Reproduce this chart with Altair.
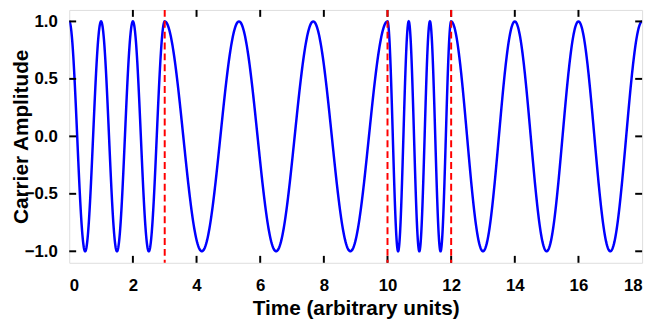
import numpy as np
import pandas as pd
import altair as alt

# Segment boundaries (time) and carrier frequency (cycles per unit) in each segment
seg_edges = [0, 3, 10, 12, 18]
seg_freqs = [1.0, 3.0 / 7.0, 1.5, 0.5]
# Dashed markers where the frequency switches
switch_times = [3, 10, 12]
x_ticks = [0, 2, 4, 6, 8, 10, 12, 14, 16, 18]
y_ticks = [-1.0, -0.5, 0.0, 0.5, 1.0]

rows = []
for (t0, t1), f in zip(zip(seg_edges[:-1], seg_edges[1:]), seg_freqs):
    ts = np.linspace(t0, t1, 400)
    for t in ts:
        rows.append({"t": float(t), "amp": float(np.cos(2 * np.pi * f * (t - t0)))})
wave = pd.DataFrame(rows)

W, H = 580, 256
FONT = "Liberation Sans"
xs = alt.Scale(domain=[0, 18], nice=False, zero=False)
ys = alt.Scale(domain=[-1.1, 1.1], nice=False, zero=False)

xaxis = alt.Axis(values=x_ticks, format="d", ticks=False, tickSize=0, domain=False, grid=False,
                 labelFont=FONT, labelFontSize=17, labelFontWeight="bold", labelColor="black",
                 labelPadding=15, title="Time (arbitrary units)", titleFont=FONT,
                 titleFontSize=21, titleFontWeight="bold", titleColor="black", titlePadding=4)
yaxis = alt.Axis(values=y_ticks, format=".1f", ticks=False, tickSize=0, domain=False, grid=False,
                 labelFont=FONT, labelFontSize=17, labelFontWeight="bold", labelColor="black",
                 labelPadding=12, title="Carrier Amplitude", titleFont=FONT,
                 titleFontSize=21, titleFontWeight="bold", titleColor="black",
                 titleAngle=-90, titleBaseline="alphabetic", titleAlign="center",
                 titleX=-42, titleY=H / 2)

line = alt.Chart(wave).mark_line(color="#0000ff", strokeWidth=2.5, clip=True).encode(
    x=alt.X("t:Q", scale=xs, axis=xaxis),
    y=alt.Y("amp:Q", scale=ys, axis=yaxis),
)

xt = pd.DataFrame({"x": x_ticks[1:-1]})
yt = pd.DataFrame({"y": y_ticks})
tick_style = dict(color="black", strokeWidth=2)
bot_ticks = alt.Chart(xt).mark_rule(**tick_style).encode(
    x=alt.X("x:Q", scale=xs), y=alt.value(H), y2=alt.value(H - 7))
top_ticks = alt.Chart(xt).mark_rule(**tick_style).encode(
    x=alt.X("x:Q", scale=xs), y=alt.value(0), y2=alt.value(7))
left_ticks = alt.Chart(yt).mark_rule(**tick_style).encode(
    y=alt.Y("y:Q", scale=ys), x=alt.value(0), x2=alt.value(7))
right_ticks = alt.Chart(yt).mark_rule(**tick_style).encode(
    y=alt.Y("y:Q", scale=ys), x=alt.value(W), x2=alt.value(W - 7))

switches = alt.Chart(pd.DataFrame({"x": switch_times})).mark_rule(
    color="#ff0000", strokeWidth=2, strokeDash=[7, 4]).encode(
    x=alt.X("x:Q", scale=xs), y=alt.value(0), y2=alt.value(H))

chart = alt.layer(line, bot_ticks, top_ticks, left_ticks, right_ticks, switches).properties(
    width=W, height=H,
    autosize=alt.AutoSizeParams(type="none"),
    padding={"left": 62, "top": 0, "right": 9, "bottom": 58},
).configure_view(stroke="#666666", strokeWidth=1.5).configure(background="white")

chart.save("out.html", embed_options={"renderer": "svg", "actions": False})
